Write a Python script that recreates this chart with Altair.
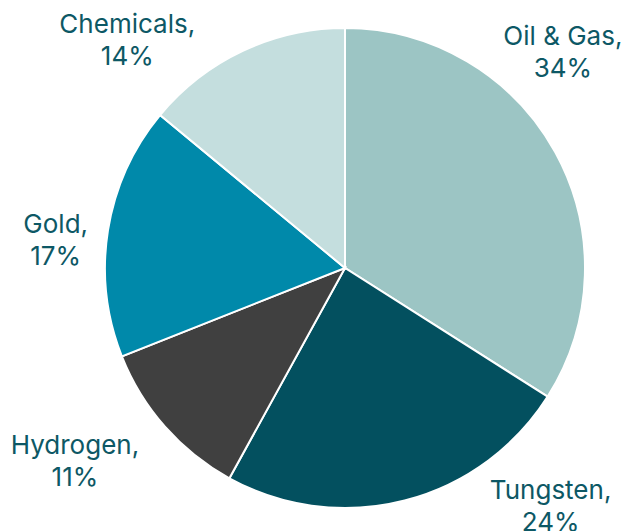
import altair as alt
import pandas as pd

categories = ["Oil & Gas", "Tungsten", "Hydrogen", "Gold", "Chemicals"]
shares = [34, 24, 11, 17, 14]
colors = ["#9CC5C4", "#03505F", "#404040", "#0089AA", "#C4DEDE"]

df = pd.DataFrame({
    "category": categories,
    "share": shares,
    "order": list(range(len(categories))),
})
df["label"] = [f"{c},\n{s}%" for c, s in zip(categories, shares)]

# label offsets from the slice mid-angle anchor (layout only)
offsets = {
    "Oil & Gas": (-45, -86),
    "Tungsten": (131, -68),
    "Hydrogen": (-45, -20),
    "Gold": (7, 4),
    "Chemicals": (-90, 28),
}

color_scale = alt.Scale(domain=categories, range=colors)

pie = alt.Chart(df).mark_arc(outerRadius=240, stroke="white", strokeWidth=2).encode(
    theta=alt.Theta("share:Q", stack=True),
    order=alt.Order("order:Q"),
    color=alt.Color("category:N", scale=color_scale, legend=None),
)

text_base = alt.Chart(df).transform_window(
    cum="sum(share)", sort=[alt.SortField("order")]
).transform_joinaggregate(
    total="sum(share)"
).transform_calculate(
    mid="(datum.cum - datum.share / 2) / datum.total"
)

layers = [pie]
for cat in categories:
    dx, dy = offsets[cat]
    layers.append(
        text_base.transform_filter(alt.datum.category == cat).mark_text(
            radius=300, dx=dx, dy=dy, fontSize=26, font="Inter",
            color="#0D5865", align="center", baseline="middle",
            lineBreak="\n", lineHeight=32,
        ).encode(
            theta=alt.Theta("mid:Q", stack=None,
                            scale=alt.Scale(domain=[0, 1], range=[0, 6.283185307])),
            text="label:N",
        )
    )

chart = alt.layer(*layers).resolve_scale(theta="independent").properties(
    width=566, height=526,
    padding={"left": 62, "top": 5, "right": 0, "bottom": 0},
    autosize=alt.AutoSizeParams(type="none"),
).configure_view(stroke=None)

chart.save("out.html", embed_options={"renderer": "svg", "actions": False})
